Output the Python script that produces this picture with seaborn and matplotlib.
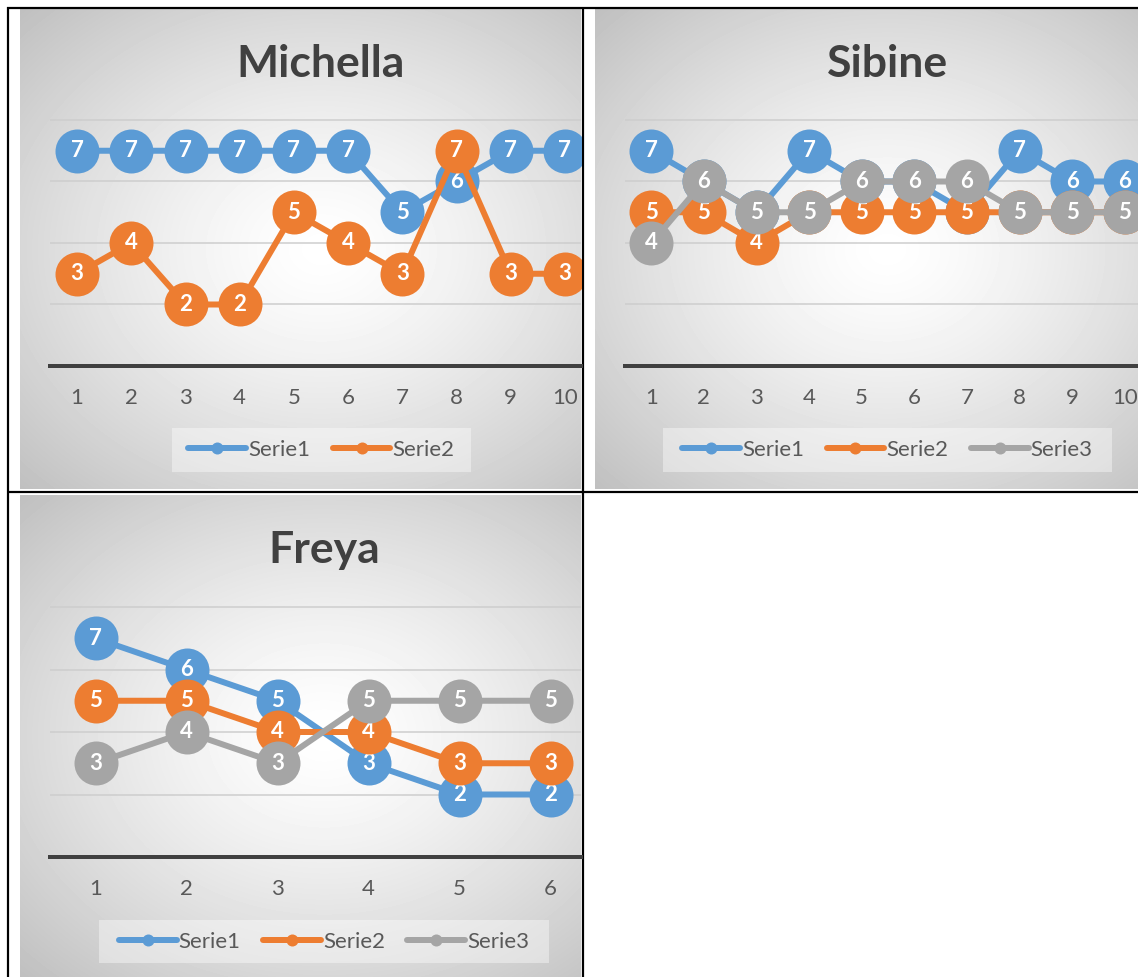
import numpy as np
import pandas as pd
import matplotlib
matplotlib.use("Agg")
import matplotlib.pyplot as plt
from matplotlib.lines import Line2D
from matplotlib.patches import Rectangle
import seaborn as sns

sns.set_theme(style="white")
plt.rcParams["font.family"] = ["Lato", "DejaVu Sans"]

# ---- data -------------------------------------------------------------
series_names = ["Serie1", "Serie2", "Serie3"]
colors = ["#5B9BD5", "#ED7D31", "#A5A5A5"]

michella_x = list(range(1, 11))
michella_s1 = [7, 7, 7, 7, 7, 7, 5, 6, 7, 7]
michella_s2 = [3, 4, 2, 2, 5, 4, 3, 7, 3, 3]

sibine_x = list(range(1, 11))
sibine_s1 = [7, 6, 5, 7, 6, 6, 5, 7, 6, 6]
sibine_s2 = [5, 5, 4, 5, 5, 5, 5, 5, 5, 5]
sibine_s3 = [4, 6, 5, 5, 6, 6, 6, 5, 5, 5]

freya_x = list(range(1, 7))
freya_s1 = [7, 6, 5, 3, 2, 2]
freya_s2 = [5, 5, 4, 4, 3, 3]
freya_s3 = [3, 4, 3, 5, 5, 5]

# ---- figure in pixel units -------------------------------------------
W, H = 1138, 977
DPI = 100
fig = plt.figure(figsize=(W / DPI, H / DPI), dpi=DPI)
PT = 72 / DPI  # points per pixel


def frac_rect(x0, y_top, x1, y_bot):
    return [x0 / W, 1 - y_bot / H, (x1 - x0) / W, (y_bot - y_top) / H]


# background layer: page, chart gradients, table borders, legend boxes
bg = fig.add_axes([0, 0, 1, 1], zorder=-5)
bg.set_xlim(0, W)
bg.set_ylim(H, 0)
bg.axis("off")

img = np.ones((H, W))
yy, xx = np.mgrid[0:H, 0:W]
chart_frames = [
    # visible area (x0, y0, x1, y1), centre (cx, cy), half sizes (hw, hh)
    ((20, 9, 581, 489), (321, 249), (301, 240)),
    ((595, 9, 1138, 489), (887, 249), (292, 240)),
    ((20, 495, 581, 977), (324, 735), (304, 240)),
]
for (x0, y0, x1, y1), (cx, cy), (hw, hh) in chart_frames:
    r = np.sqrt(((xx - cx) / hw) ** 2 + ((yy - cy) / hh) ** 2) / np.sqrt(2)
    g = 1 - 0.25 * np.clip(r, 0, 1.1) ** 1.35
    m = (xx >= x0) & (xx < x1) & (yy >= y0) & (yy < y1)
    img[m] = g[m]
bg.imshow(img, cmap="gray", vmin=0, vmax=1, extent=(0, W, H, 0),
          interpolation="bilinear", aspect="auto")

# table borders
border_kw = dict(color="black", lw=2.2 * PT, solid_capstyle="butt")
bg.plot([7, W], [8, 8], **border_kw)
bg.plot([7, W], [492, 492], **border_kw)
bg.plot([8, 8], [7, H], **border_kw)
bg.plot([583, 583], [7, H], **border_kw)


def draw_chart(title, title_xy, xs, series, ax_px, xlim, y_axis_px, unit_px,
               legend_box):
    k = len(series)
    ymax = 8.6
    x0, x1 = ax_px
    top = y_axis_px - ymax * unit_px
    ax = fig.add_axes(frac_rect(x0, top, x1, y_axis_px))
    ax.set_facecolor("none")

    df = pd.DataFrame({
        "x": np.tile(xs, k),
        "value": np.concatenate([np.asarray(s) for s in series]),
        "series": np.repeat(series_names[:k], len(xs)),
    })
    sns.lineplot(data=df, x="x", y="value", hue="series",
                 palette=colors[:k], marker="o", markersize=44 * PT,
                 markeredgewidth=0, linewidth=6 * PT, legend=False,
                 errorbar=None, sort=False, ax=ax)
    for i, line in enumerate(ax.lines):
        line.set_zorder(3 + 2 * i)
        line.set_solid_joinstyle("round")
    for i, vals in enumerate(series):
        for x, v in zip(xs, vals):
            ax.text(x, v, str(v), color="white", fontsize=16,
                    fontweight="bold", ha="center", va="center",
                    zorder=4 + 2 * i, clip_on=True)

    ax.set_xlim(*xlim)
    ax.set_ylim(0, ymax)
    ax.set_xticks(xs)
    ax.set_xticklabels([str(x) for x in xs])
    ax.set_yticks([0, 2, 4, 6, 8])
    ax.tick_params(axis="x", length=0, pad=16, labelsize=16,
                   labelcolor="#595959")
    ax.tick_params(axis="y", length=0, labelleft=False)
    ax.grid(axis="y", color="#cdcdcd", lw=1.5 * PT)
    ax.grid(axis="x", visible=False)
    ax.set_xlabel("")
    ax.set_ylabel("")
    for side in ("top", "left", "right"):
        ax.spines[side].set_visible(False)
    ax.spines["bottom"].set_color("#404040")
    ax.spines["bottom"].set_linewidth(4 * PT)
    ax.spines["bottom"].set_zorder(2.5)

    fig.text(title_xy[0] / W, 1 - title_xy[1] / H, title, ha="center",
             va="baseline", fontsize=32, fontweight="bold", color="#404040")

    lx0, ly0, lx1, ly1 = legend_box
    bg.add_patch(Rectangle((lx0, ly0), lx1 - lx0, ly1 - ly0,
                           facecolor=(1, 1, 1, 0.4), edgecolor="none"))
    handles = [Line2D([], [], color=colors[i], lw=6 * PT, marker="o",
                      markersize=12 * PT, markeredgewidth=0)
               for i in range(k)]
    fig.legend(handles, series_names[:k], loc="center",
               bbox_to_anchor=((lx0 + lx1) / 2 / W, 1 - (ly0 + ly1) / 2 / H),
               ncol=k, frameon=False, fontsize=16, labelcolor="#595959",
               handlelength=2.6, handletextpad=0.1, columnspacing=1.0,
               borderaxespad=0, borderpad=0)
    return ax


draw_chart("Michella", (321, 77), michella_x, [michella_s1, michella_s2],
           (50, 581), (0.5, 0.5 + 531 / 54.2), 366, 30.75,
           (172, 428, 471, 472))
draw_chart("Sibine", (887, 77), sibine_x, [sibine_s1, sibine_s2, sibine_s3],
           (625, 1138), (0.5, 0.5 + 513 / 52.6), 366, 30.75,
           (663, 428, 1112, 472))
draw_chart("Freya", (324, 563), freya_x, [freya_s1, freya_s2, freya_s3],
           (50, 581), (0.5, 0.5 + 531 / 91.0), 857, 31.25,
           (99, 920, 549, 963))

fig.savefig("out.png", dpi=DPI)
